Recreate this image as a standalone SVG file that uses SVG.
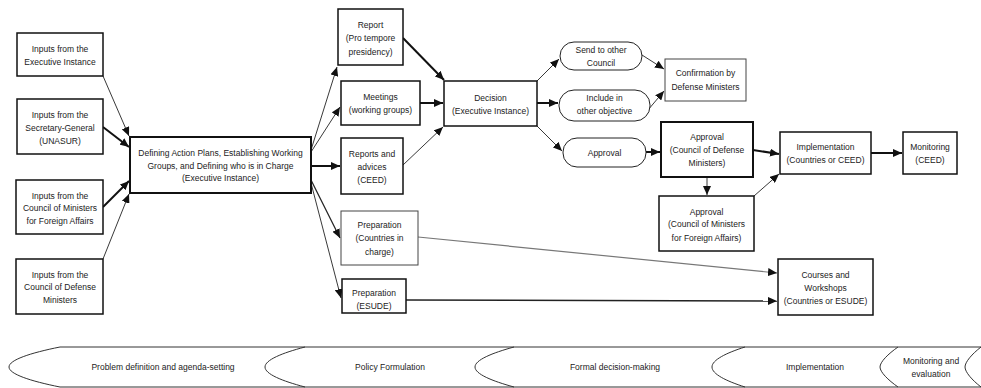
<svg xmlns="http://www.w3.org/2000/svg" width="981" height="388" viewBox="0 0 981 388">
<style>
text{font-family:"Liberation Sans",Arial,sans-serif;font-size:8.5px;fill:#222;text-anchor:middle}
.box{fill:#fff;stroke:#111;stroke-width:1.5}
.lt{fill:#fff;stroke:#444;stroke-width:1}
.pill{fill:#fff;stroke:#222;stroke-width:1}
.thin{stroke:#222;stroke-width:0.9;fill:none;marker-end:url(#ah)}
.thick{stroke:#111;stroke-width:2;fill:none;marker-end:url(#ah)}
.gray{stroke:#777;stroke-width:1.2;fill:none;marker-end:url(#ah)}
.band{fill:none;stroke:#333;stroke-width:1}
</style>
<defs>
<marker id="ah" markerUnits="userSpaceOnUse" markerWidth="10" markerHeight="8" refX="9" refY="4" orient="auto">
<path d="M0,0 L9,4 L0,8 Z" fill="#111"/>
</marker>
</defs>
<rect width="981" height="388" fill="#fff"/>

<g id="connectors">
<line class="thin" x1="103" y1="76" x2="129" y2="136"/>
<line class="thick" x1="103" y1="127" x2="129" y2="147"/>
<line class="thick" x1="103" y1="207" x2="129" y2="181"/>
<line class="thin" x1="103" y1="259" x2="129" y2="194"/>
<line class="thin" x1="311" y1="150" x2="337" y2="67"/>
<line class="thin" x1="311" y1="152" x2="340" y2="107"/>
<line class="thick" x1="311" y1="166" x2="340" y2="166"/>
<line class="thin" style="stroke-width:1.3" x1="311" y1="180" x2="340" y2="238"/>
<line class="thin" x1="311" y1="183" x2="341" y2="298"/>
<line class="thick" x1="403" y1="38" x2="444" y2="80"/>
<line class="thick" x1="420" y1="103" x2="443" y2="103"/>
<line class="thin" x1="403" y1="165" x2="443" y2="127"/>
<line class="thin" x1="537" y1="81" x2="559" y2="59"/>
<line class="thick" x1="537" y1="103" x2="558" y2="103"/>
<line class="thin" x1="537" y1="126" x2="562" y2="151"/>
<line class="thin" x1="642" y1="55" x2="664" y2="69"/>
<line class="thin" x1="648" y1="110" x2="664" y2="91"/>
<line class="thick" x1="646" y1="152" x2="660" y2="152"/>
<line class="thick" x1="753" y1="150" x2="779" y2="154"/>
<line class="thin" x1="707" y1="177" x2="707" y2="195"/>
<line class="thin" x1="754" y1="196" x2="779" y2="174"/>
<line class="thick" x1="871" y1="153" x2="902" y2="153"/>
<line class="gray" x1="418" y1="237" x2="777" y2="273"/>
<line class="thin" style="stroke-width:1.5" x1="406" y1="300" x2="777" y2="301"/>
</g>

<g id="n-exec"><rect class="box" x="17" y="33" width="86" height="43"/><text x="60" y="52">Inputs from the</text><text x="60" y="65">Executive Instance</text></g>
<g id="n-sec"><rect class="box" x="17" y="99" width="86" height="55"/><text x="60" y="118">Inputs from the</text><text x="60" y="131">Secretary-General</text><text x="60" y="144">(UNASUR)</text></g>
<g id="n-foreign"><rect class="box" x="16" y="180" width="87" height="54"/><text x="60" y="199">Inputs from the</text><text x="60" y="211">Council of Ministers</text><text x="60" y="224">for Foreign Affairs</text></g>
<g id="n-defense"><rect class="box" x="16" y="259" width="87" height="55"/><text x="60" y="278">Inputs from the</text><text x="60" y="290">Council of Defense</text><text x="60" y="303">Ministers</text></g>
<g id="n-main"><rect class="box" style="stroke-width:2" x="130" y="137" width="181" height="56"/><text x="220.5" y="156">Defining Action Plans, Establishing Working</text><text x="220.5" y="169">Groups, and Defining who is in Charge</text><text x="220.5" y="181">(Executive Instance)</text></g>
<g id="n-report"><rect class="box" x="338" y="9" width="65" height="56"/><text x="370.5" y="28">Report</text><text x="370.5" y="41">(Pro tempore</text><text x="370.5" y="55">presidency)</text></g>
<g id="n-meetings"><rect class="box" x="341" y="81" width="79" height="44"/><text x="380.5" y="100">Meetings</text><text x="380.5" y="113">(working groups)</text></g>
<g id="n-advices"><rect class="box" x="341" y="138" width="62" height="56"/><text x="372" y="157">Reports and</text><text x="372" y="170">advices</text><text x="372" y="183">(CEED)</text></g>
<g id="n-decision"><rect class="box" x="444" y="81" width="93" height="45"/><text x="490.5" y="101">Decision</text><text x="490.5" y="114">(Executive Instance)</text></g>
<g id="n-prepc"><rect class="lt" x="341" y="211" width="77" height="54"/><text x="379.5" y="228">Preparation</text><text x="379.5" y="241">(Countries in</text><text x="379.5" y="255">charge)</text></g>
<g id="n-prepe"><rect class="box" x="342" y="279" width="64" height="34"/><text x="374" y="296">Preparation</text><text x="374" y="308.5">(ESUDE)</text></g>
<g id="n-send"><rect class="pill" x="560" y="42" width="82" height="28" rx="14"/><text x="601" y="53">Send to other</text><text x="601" y="66">Council</text></g>
<g id="n-include"><rect class="pill" x="559" y="90" width="91" height="31" rx="15"/><text x="604.5" y="101">Include in</text><text x="604.5" y="114">other objective</text></g>
<g id="n-approval"><rect class="pill" x="563" y="138" width="83" height="29" rx="14"/><text x="604.5" y="156">Approval</text></g>
<g id="n-confirm"><rect class="lt" x="665" y="59" width="81" height="42"/><text x="705.5" y="76">Confirmation by</text><text x="705.5" y="90">Defense Ministers</text></g>
<g id="n-cdm"><rect class="box" style="stroke-width:2" x="661" y="122" width="92" height="55"/><text x="707" y="140">Approval</text><text x="707" y="153">(Council of Defense</text><text x="707" y="166">Ministers)</text></g>
<g id="n-impl"><rect class="box" x="780" y="132" width="91" height="42"/><text x="825.5" y="150">Implementation</text><text x="825.5" y="163">(Countries or CEED)</text></g>
<g id="n-monitor"><rect class="box" x="903" y="132" width="54" height="42"/><text x="930" y="150">Monitoring</text><text x="930" y="163">(CEED)</text></g>
<g id="n-cmfa"><rect class="box" x="659" y="196" width="95" height="55"/><text x="706.5" y="215">Approval</text><text x="706.5" y="227">(Council of Ministers</text><text x="706.5" y="241">for Foreign Affairs)</text></g>
<g id="n-courses"><rect class="box" x="778" y="259" width="95" height="56"/><text x="825.5" y="278">Courses and</text><text x="825.5" y="291">Workshops</text><text x="825.5" y="304">(Countries or ESUDE)</text></g>

<g id="phases">
<line class="band" x1="60" y1="347" x2="981" y2="347"/>
<line class="band" x1="60" y1="387" x2="981" y2="387"/>
<path class="band" d="M60,347 C30,353 9,360 9,367 C9,374 30,381 60,387"/>
<path class="band" d="M305,347 C282,353 265,360 265,367 C265,374 282,381 305,387"/>
<path class="band" d="M514,347 C492,353 475,360 475,367 C475,374 492,381 514,387"/>
<path class="band" d="M745,347 C726,353 712,360 712,367 C712,374 726,381 745,387"/>
<path class="band" d="M898,347 C888,354 880,362 880,367 C880,372 888,380 898,387"/>
<path class="band" d="M981,347 C972,354 965,362 965,367 C965,372 972,380 981,387"/>
<text x="163" y="370">Problem definition and agenda-setting</text>
<text x="390" y="370">Policy Formulation</text>
<text x="615" y="370">Formal decision-making</text>
<text x="815" y="370">Implementation</text>
<text x="931" y="364">Monitoring and</text>
<text x="931" y="377">evaluation</text>
</g>
</svg>
